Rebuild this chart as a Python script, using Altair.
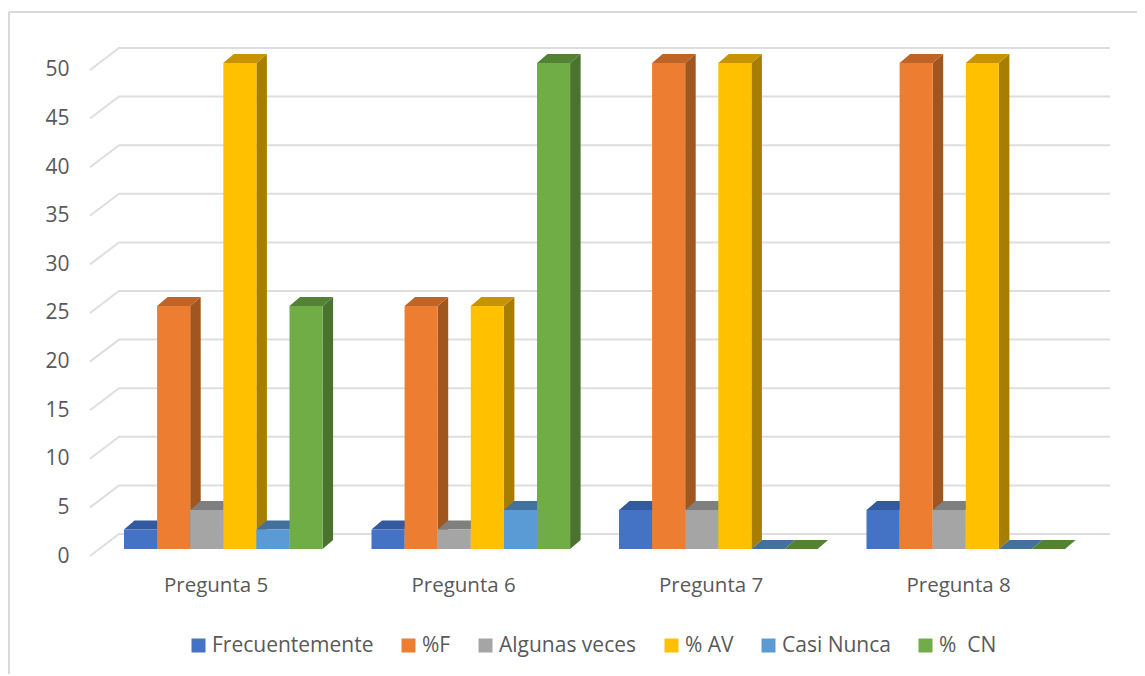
import altair as alt
import pandas as pd

preguntas = ["Pregunta 5", "Pregunta 6", "Pregunta 7", "Pregunta 8"]
series = ["Frecuentemente", "%F", "Algunas veces", "% AV", "Casi Nunca", "%\u00a0\u00a0CN"]
frecuentemente = [2, 2, 4, 4]
pct_f = [25, 25, 50, 50]
algunas_veces = [4, 2, 4, 4]
pct_av = [50, 25, 50, 50]
casi_nunca = [2, 4, 0, 0]
pct_cn = [25, 50, 0, 0]
valores = [frecuentemente, pct_f, algunas_veces, pct_av, casi_nunca, pct_cn]
ticks = list(range(0, 55, 5))

front = ["#4472C4", "#ED7D31", "#A5A5A5", "#FFC000", "#5B9BD5", "#70AD47"]
side = ["#2E4F8C", "#A0561F", "#737373", "#A87E00", "#3F6F9C", "#4A7330"]
topc = ["#335A9E", "#BE6427", "#7F7F7F", "#C59400", "#41719C", "#548235"]

FONT = "Open Sans"
TXT = "#595959"
PW, PH = 1020, 508
XD = [-34 / 247.5, 986 / 247.5]
YD = [-0.72, 51.54]
BW = 33.1 / 247.5
DX, DY = 10.5 / 247.5, 0.93
WALL_X, WALL_Y, FLOOR_Y = -5 / 247.5, 1.543, -0.72
LABEL_X = 0.37

xs = alt.Scale(domain=XD, nice=False, zero=False)
ys = alt.Scale(domain=YD, nice=False, zero=False)

grid = pd.DataFrame(
    [r for t in ticks for r in (
        {"t": t, "x": XD[0], "y": t + FLOOR_Y},
        {"t": t, "x": WALL_X, "y": t + WALL_Y},
        {"t": t, "x": XD[1], "y": t + WALL_Y},
    )]
)
label_expr = "[" + ",".join(f"'{p}'" for p in preguntas) + f"][round(datum.value - {LABEL_X})]"

grid_layer = alt.Chart(grid).mark_line(color="#DEDEDE", strokeWidth=2, clip=False).encode(
    x=alt.X("x:Q", scale=xs, title=None, axis=alt.Axis(
        values=[i + LABEL_X for i in range(len(preguntas))], labelExpr=label_expr,
        grid=False, domain=False, ticks=False, labelFont=FONT, labelFontSize=20.5,
        labelColor=TXT, labelPadding=19, labelOverlap=False, labelFlush=False)),
    y=alt.Y("y:Q", scale=ys, title=None, axis=alt.Axis(
        values=ticks, grid=False, domain=False, ticks=False, labelFont=FONT, labelFontSize=21,
        labelColor=TXT, labelPadding=21, labelOffset=7, labelOverlap=False, labelFlush=False)),
    detail="t:N",
)

layers = [grid_layer]
color_scale = alt.Scale(domain=series, range=front)
for i, name in enumerate(series):
    bars = [
        {"g": g, "serie": name, "l": g + i * BW, "r": g + (i + 1) * BW, "v": valores[i][g]}
        for g in range(len(preguntas))
    ]
    side_rows = []
    top_rows = []
    for b in bars:
        side_rows += [
            {"g": b["g"], "x": b["r"], "y0": 0, "y1": b["v"]},
            {"g": b["g"], "x": b["r"] + DX, "y0": DY, "y1": b["v"] + DY},
        ]
        top_rows += [
            {"g": b["g"], "y": b["v"], "x0": b["l"], "x1": b["r"]},
            {"g": b["g"], "y": b["v"] + DY, "x0": b["l"] + DX, "x1": b["r"] + DX},
        ]
    layers.append(alt.Chart(pd.DataFrame(side_rows)).mark_area(orient="vertical", color=side[i]).encode(
        x=alt.X("x:Q", scale=xs), y=alt.Y("y0:Q", scale=ys), y2="y1:Q", detail="g:N"))
    layers.append(alt.Chart(pd.DataFrame(top_rows)).mark_area(orient="horizontal", color=topc[i]).encode(
        y=alt.Y("y:Q", scale=ys), x=alt.X("x0:Q", scale=xs), x2="x1:Q", detail="g:N"))
    layers.append(alt.Chart(pd.DataFrame(bars)).mark_rect().encode(
        x=alt.X("l:Q", scale=xs), x2="r:Q",
        y=alt.Y("v:Q", scale=ys), y2=alt.datum(0),
        color=alt.Color("serie:N", scale=color_scale, sort=series, legend=alt.Legend(
            title=None, orient="none", legendX=98, legendY=587, direction="horizontal",
            columns=6, columnPadding=24, gridAlign="none", symbolType="square", symbolSize=196,
            symbolStrokeWidth=0, labelFont=FONT, labelFontSize=21, labelColor=TXT, labelOffset=3,
            padding=0, labelLimit=300)),
    ))

border_l = alt.Chart(pd.DataFrame({"a": [0]})).mark_rule(color="#D9D9D9", strokeWidth=2).encode(
    x=alt.value(-81), y=alt.value(-36), y2=alt.value(628))
border_t = alt.Chart(pd.DataFrame({"a": [0]})).mark_rule(color="#D9D9D9", strokeWidth=2).encode(
    y=alt.value(-36), x=alt.value(-81), x2=alt.value(1047))

chart = alt.layer(border_l, border_t, *layers).properties(
    width=PW, height=PH,
    padding={"left": 82, "top": 40, "right": 27, "bottom": 118},
    autosize=alt.AutoSizeParams(type="none"),
    background="white",
).configure_view(stroke=None)

chart.save("out.html", embed_options={"renderer": "svg", "actions": False})
